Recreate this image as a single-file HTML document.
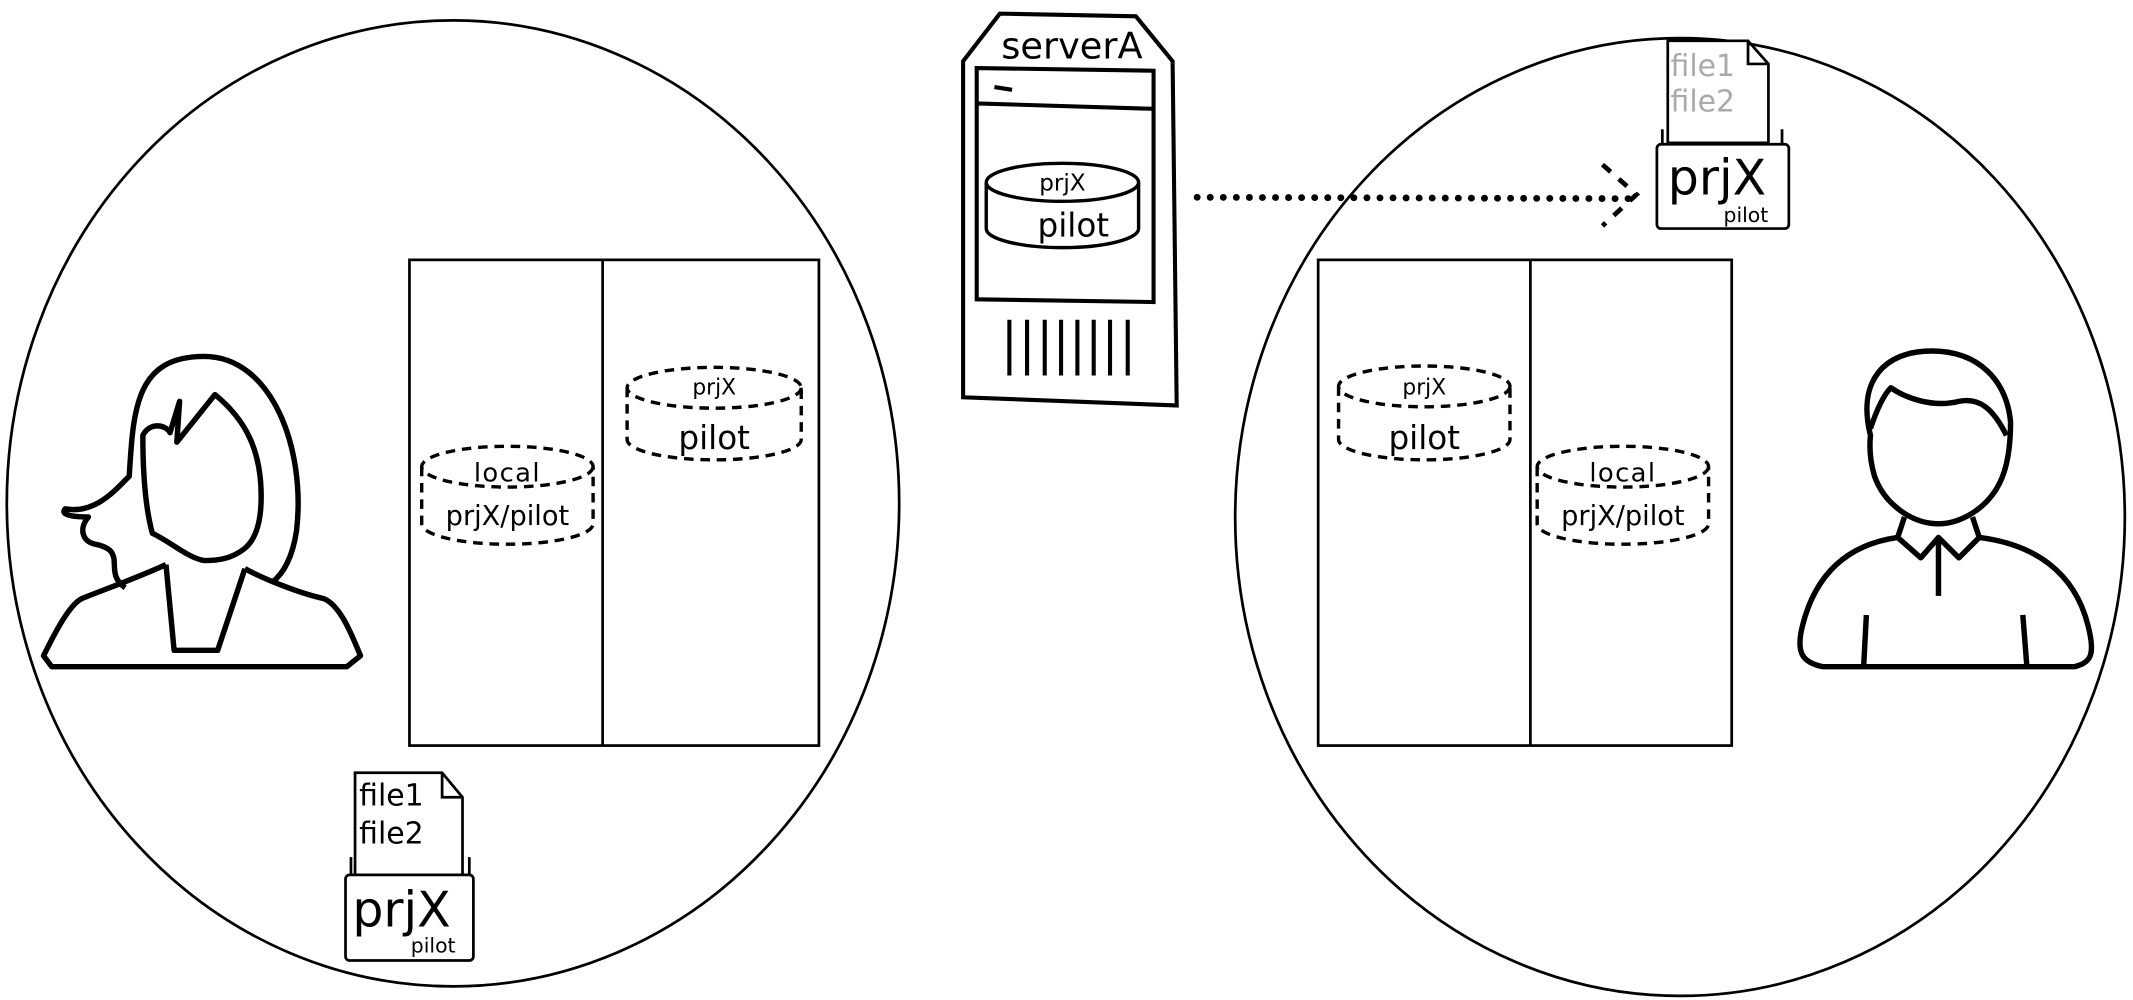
<!DOCTYPE html>
<html><head><style>html,body{margin:0;padding:0;background:#fff}svg{display:block}
text{font-family:"DejaVu Sans","Liberation Sans",sans-serif}</style></head><body>
<svg width="2133" height="1000" viewBox="0 0 1568 735" preserveAspectRatio="none" xmlns="http://www.w3.org/2000/svg">
<g fill="none" stroke="#000">
<ellipse cx="333" cy="370" rx="328" ry="355" stroke-width="2"/>
<ellipse cx="1235" cy="380" rx="327" ry="352" stroke-width="2"/>
<rect x="301" y="191" width="301" height="357" stroke-width="2"/>
<line x1="443" y1="191" x2="443" y2="548" stroke-width="2"/>
<rect x="969" y="191" width="304" height="357" stroke-width="2"/>
<line x1="1125" y1="191" x2="1125" y2="548" stroke-width="2"/>
<g stroke-width="2.5" stroke-dasharray="7,5">
<ellipse cx="373" cy="343" rx="63" ry="15"/><path d="M310 343 V385 A63 15 0 0 0 436 385 V343"/>
<ellipse cx="525" cy="285" rx="64" ry="15"/><path d="M461 285 V323 A64 15 0 0 0 589 323 V285"/>
<ellipse cx="1047" cy="284" rx="63" ry="15"/><path d="M984 284 V323 A63 15 0 0 0 1110 323 V284"/>
<ellipse cx="1193" cy="343" rx="63" ry="15"/><path d="M1130 343 V385 A63 15 0 0 0 1256 385 V343"/>
</g>
<path d="M735 10 L835 12 L862 45 L865 298 L708 292 L708 45 Z" stroke-width="3"/>
<path d="M718 50 L848 52 L848 222 L718 220 Z M718 76 L848 80" stroke-width="3"/>
<line x1="731" y1="64" x2="744" y2="66" stroke-width="3"/>
<ellipse cx="781" cy="134" rx="56" ry="14" stroke-width="2.5"/>
<path d="M725 134 V168 A56 14 0 0 0 837 168 V134" stroke-width="2.5"/>
<g stroke-width="3"><path d="M742 235V276M755 235V276M768 235V276M780 235V276M792 235V276M804 235V276M816 235V276M829 235V276"/></g>
<line x1="880" y1="145" x2="1198" y2="146" stroke-width="5" stroke-dasharray="0.1,9.5" stroke-linecap="round"/>
<path d="M1178 121 L1203 143 L1178 166" stroke-width="3.5" stroke-dasharray="8,8"/>
<path d="M1226 30 H1285 L1300 47 V105 H1226 Z M1285 30 V47 H1300" stroke-width="2" fill="#fff"/>
<path d="M1222 95 V108 M1310 95 V108" stroke-width="2"/>
<rect x="1218" y="106" width="97" height="62" rx="3" stroke-width="2" fill="#fff"/>
<path d="M261 568 H325 L340 586 V650 H261 Z M325 568 V586 H340" stroke-width="2" fill="#fff"/>
<path d="M258 630 V645 M345 630 V645" stroke-width="2"/>
<rect x="254" y="643" width="94" height="63" rx="3" stroke-width="2" fill="#fff"/>
<!-- woman -->
<g stroke-width="4" stroke-linejoin="round">
<path d="M92 432 C75 420 95 405 70 400 C60 398 58 388 65 380 C52 380 44 378 48 374 C70 378 85 360 95 350 C98 300 100 262 150 262 C200 262 225 330 218 390 C215 410 208 422 200 428"/>
<path d="M105 320 C110 310 122 312 125 318 L132 295 L130 325 L158 290 C180 308 192 330 192 365 C192 388 186 398 180 403 C170 411 160 412 150 412 C138 410 125 398 112 392 C106 370 105 340 105 320 Z"/>
<path d="M122 415 L128 478 H160 L180 418"/>
<path d="M122 415 C100 425 80 432 60 440 C50 445 38 470 32 482 L38 490 H255 L265 482 C258 465 250 445 238 440 C220 436 195 426 180 418"/>
</g>
<!-- man -->
<g stroke-width="4" stroke-linejoin="round">
<path d="M1375 320 C1365 280 1385 258 1420 258 C1455 258 1475 280 1478 310 C1478 330 1475 345 1470 355 C1460 375 1440 385 1425 385 C1405 385 1385 370 1378 350 C1375 340 1374 330 1375 320 Z"/>
<path d="M1375 315 C1380 300 1385 290 1390 285 C1400 292 1420 300 1440 295 C1455 292 1465 300 1475 320"/>
<path d="M1400 380 L1395 395 L1412 410 L1425 395 L1440 410 L1455 395 L1450 380"/>
<path d="M1425 395 V438"/>
<path d="M1395 395 C1360 400 1335 420 1325 460 C1320 480 1325 487 1340 490 H1525 C1538 487 1540 480 1535 460 C1525 420 1495 400 1455 395"/>
<path d="M1372 452 L1370 490 M1487 452 L1490 490"/>
</g>
</g>
<g text-anchor="middle">
<text x="788" y="43" font-size="27">serverA</text>
<text x="781" y="140" font-size="17">prjX</text>
<text x="789" y="174" font-size="24">pilot</text>
<text x="373" y="354" font-size="19" letter-spacing="1">local</text>
<text x="373" y="386" font-size="20">prjX/pilot</text>
<text x="525" y="290" font-size="16">prjX</text>
<text x="525" y="330" font-size="24">pilot</text>
<text x="1047" y="290" font-size="16">prjX</text>
<text x="1047" y="330" font-size="24">pilot</text>
<text x="1193" y="354" font-size="19" letter-spacing="1">local</text>
<text x="1193" y="386" font-size="20">prjX/pilot</text>
</g>
<text x="1228" y="56" font-size="22" fill="#aaa">file1</text>
<text x="1228" y="82" font-size="22" fill="#aaa">file2</text>
<text x="1226" y="143" font-size="36">prjX</text>
<text x="1267" y="163" font-size="15">pilot</text>
<text x="264" y="592" font-size="22">file1</text>
<text x="264" y="620" font-size="22">file2</text>
<text x="259" y="681" font-size="36">prjX</text>
<text x="302" y="700" font-size="15">pilot</text>
</svg>
</body></html>
